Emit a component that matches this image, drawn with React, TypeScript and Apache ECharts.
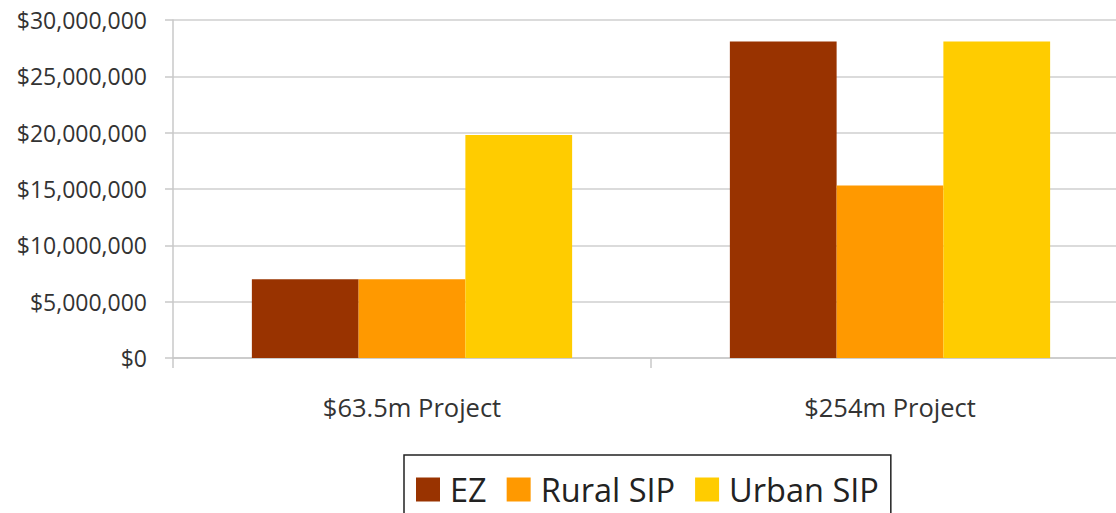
import React, { useEffect, useRef } from "react";
import * as echarts from "echarts";

const categories = ["$63.5m Project", "$254m Project"];
const seriesNames = ["EZ", "Rural SIP", "Urban SIP"];
const ezValues = [7000000, 28100000];
const ruralValues = [7000000, 15300000];
const urbanValues = [19800000, 28100000];
const colors = ["#993300", "#FF9900", "#FFCC00"];

const FONT = "'Open Sans', sans-serif";

function fmt(v: number): string {
  return "$" + Math.round(v).toString().replace(/\B(?=(\d{3})+(?!\d))/g, ",");
}

export default function App() {
  const ref = useRef<HTMLDivElement>(null);
  useEffect(() => {
    if (!ref.current) return;
    document.body.style.margin = "0";
    const chart = echarts.init(ref.current, undefined, { renderer: "svg" });
    const data = [ezValues, ruralValues, urbanValues];
    chart.setOption({
      animation: false,
      backgroundColor: "#ffffff",
      grid: {
        left: 173,
        top: 20,
        bottom: 155,
        width: 956,
        containLabel: false,
        outerBoundsMode: "none",
      },
      legend: {
        left: 404,
        top: 455,
        orient: "horizontal",
        icon: "rect",
        itemWidth: 24,
        itemHeight: 24,
        itemGap: 20,
        padding: [18, 12, 40, 12],
        borderColor: "#222",
        borderWidth: 1.5,
        textStyle: { fontFamily: FONT, fontSize: 32.5, color: "#222", padding: [0, 0, 0, 5] },
        data: seriesNames,
      },
      xAxis: {
        type: "category",
        data: categories,
        boundaryGap: true,
        axisLine: { show: true, lineStyle: { color: "#c8c8c8", width: 1.5 } },
        axisTick: { show: true, length: 10, lineStyle: { color: "#c8c8c8", width: 1.5 } },
        axisLabel: { fontFamily: FONT, fontSize: 25.5, color: "#333", margin: 36 },
        splitLine: { show: false },
      },
      yAxis: {
        type: "value",
        min: 0,
        max: 30000000,
        interval: 5000000,
        axisLine: { show: true, lineStyle: { color: "#c8c8c8", width: 1.5 } },
        axisTick: { show: true, length: 8, lineStyle: { color: "#c8c8c8", width: 1.5 } },
        axisLabel: {
          fontFamily: FONT,
          fontSize: 23,
          color: "#333",
          margin: 26,
          formatter: (v: number) => fmt(v),
        },
        splitLine: { show: true, lineStyle: { color: "#cfcfcf", width: 1.5 } },
      },
      series: seriesNames.map((name, i) => ({
        name,
        type: "bar",
        data: data[i],
        barGap: "0%",
        barCategoryGap: "33%",
        itemStyle: { color: colors[i] },
      })),
    });
    return () => chart.dispose();
  }, []);
  return <div ref={ref} style={{ width: 1116, height: 513 }} />;
}
